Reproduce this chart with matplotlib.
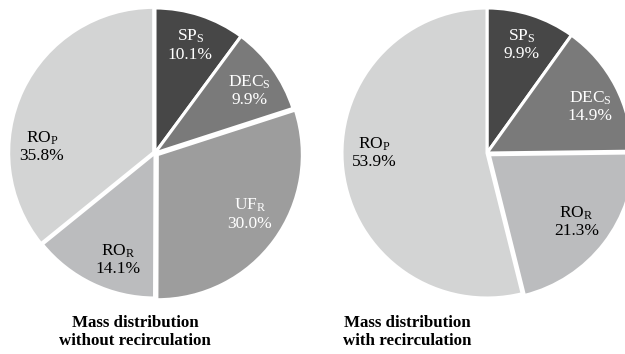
import numpy as np
import matplotlib
matplotlib.use("Agg")
import matplotlib.pyplot as plt

plt.rcParams['font.family'] = 'Liberation Serif'
plt.rcParams['mathtext.fontset'] = 'custom'
plt.rcParams['mathtext.rm'] = 'Liberation Serif'
plt.rcParams['mathtext.it'] = 'Liberation Serif:italic'
plt.rcParams['mathtext.bf'] = 'Liberation Serif:bold'

# slices go clockwise from 12 o'clock
names_a = ['SP', 'DEC', 'UF', 'RO', 'RO']
subs_a = ['S', 'S', 'R', 'R', 'P']
share_a = [10.1, 9.9, 30.0, 14.1, 35.8]
colors_a = ['#474747', '#7a7a7a', '#9d9d9d', '#bbbcbe', '#d3d4d4']
text_a = ['white', 'white', 'white', 'black', 'black']

names_b = ['SP', 'DEC', 'RO', 'RO']
subs_b = ['S', 'S', 'R', 'P']
share_b = [9.9, 14.9, 21.3, 53.9]
colors_b = ['#474747', '#7a7a7a', '#bbbcbe', '#d3d4d4']
text_b = ['white', 'white', 'black', 'black']

titles = ['Mass distribution\nwithout recirculation',
          'Mass distribution\nwith recirculation']

W, H = 625, 354
fig = plt.figure(figsize=(W / 100, H / 100), dpi=100)
ax = fig.add_axes([0, 0, 1, 1])
ax.set_xlim(0, W)
ax.set_ylim(0, H)
ax.set_aspect('equal')
ax.axis('off')

R = 145


def draw_pie(cx, cy, shares, colors, names, subs, tcolors, explode, label_ang):
    wedges, _ = ax.pie(shares, colors=colors, startangle=90, counterclock=False,
                       radius=R, center=(cx, cy), explode=explode,
                       wedgeprops=dict(edgecolor='white', linewidth=2.2),
                       normalize=True)
    for i, w in enumerate(wedges):
        # label sits at mid-angle unless a nicer spot is given
        ang = (w.theta1 + w.theta2) / 2 if label_ang[i] is None else label_ang[i]
        x = cx + 0.78 * R * np.cos(np.radians(ang))
        y = cy + 0.78 * R * np.sin(np.radians(ang))
        ax.text(x, y + 9, names[i] + r'$_\mathrm{' + subs[i] + '}$', ha='center',
                va='center', fontsize=12.5, color=tcolors[i])
        ax.text(x, y - 9, '%.1f%%' % shares[i], ha='center', va='center',
                fontsize=12.5, color=tcolors[i])


draw_pie(155, 201, share_a, colors_a, names_a, subs_a, text_a,
         [0, 0, 0.02 * R, 0, 0.01 * R], [None, 33, -33, -109, 177])
draw_pie(487, 201, share_b, colors_b, names_b, subs_b, text_b,
         [0, 0, 0.02 * R, 0], [None, 24, None, 180])

ax.text(135, 22, titles[0], ha='center', va='center', fontsize=12.2,
        fontweight='bold', linespacing=1.2)
ax.text(407, 22, titles[1], ha='center', va='center', fontsize=12.2,
        fontweight='bold', linespacing=1.2)

ax.set_xlim(0, W)
ax.set_ylim(0, H)
fig.savefig('out.png', dpi=100)
